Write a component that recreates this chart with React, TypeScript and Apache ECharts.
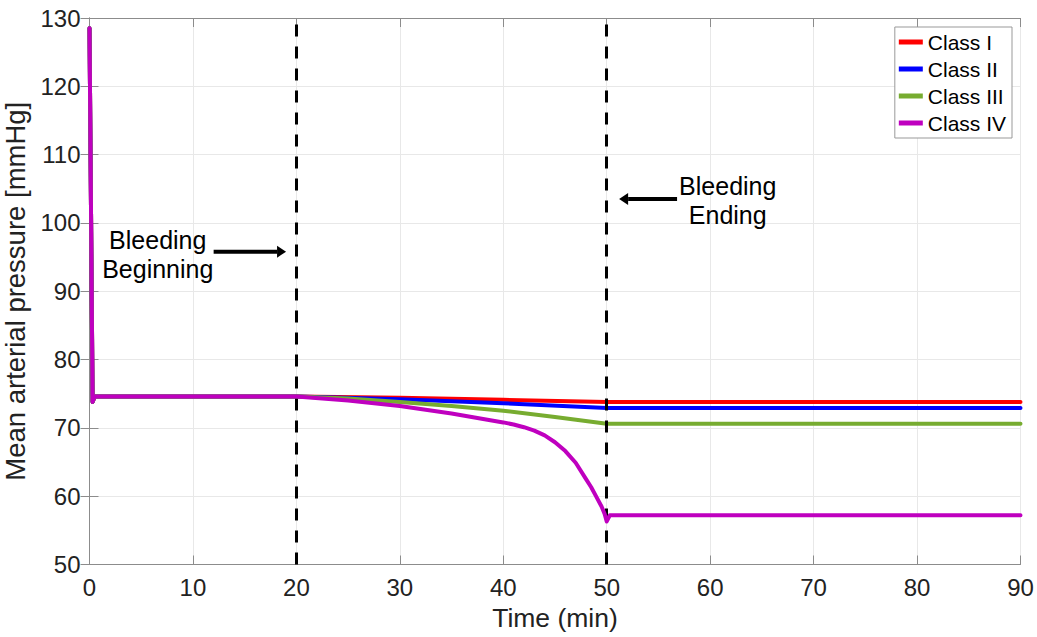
import React, { useEffect, useRef } from "react";
import * as echarts from "echarts";

const xTicks = { min: 0, max: 90, interval: 10 };
const yTicks = { min: 50, max: 130, interval: 10 };

const seriesNames = ["Class I", "Class II", "Class III", "Class IV"];
const seriesColors = ["#ff0000", "#0000ff", "#77ac30", "#bf00bf"];

const classI: number[][] = [
  [0, 128.5], [0.3, 73.8], [0.5, 74.6], [20, 74.6], [30, 74.4], [40, 74.1], [50, 73.8], [90, 73.8],
];
const classII: number[][] = [
  [0, 128.5], [0.3, 73.8], [0.5, 74.6], [20, 74.6], [30, 74.2], [40, 73.6], [50, 72.9], [90, 72.9],
];
const classIII: number[][] = [
  [0, 128.5], [0.3, 73.8], [0.5, 74.6], [20, 74.6], [25, 74.3], [30, 73.8], [35, 73.2], [40, 72.5],
  [45, 71.6], [50, 70.6], [90, 70.6],
];
const classIV: number[][] = [
  [0, 128.5], [0.3, 73.8], [0.5, 74.6], [20, 74.6], [25, 74.0], [30, 73.2], [35, 72.1], [40, 70.8],
  [41, 70.5], [42, 70.1], [43, 69.6], [44, 68.9], [45, 67.9], [46, 66.6], [47, 64.9], [48, 62.5],
  [48.5, 61.3], [49, 59.9], [49.5, 58.5], [49.8, 57.4], [50, 56.3], [50.3, 57.2], [90, 57.2],
];
const allSeries = [classI, classII, classIII, classIV];

const eventTimes = [20, 50];

// annotation anchors in data coordinates
const beginText = { x: 6.6, y: 95.4, text: "Bleeding\nBeginning" };
const beginArrow = { from: [12.0, 95.8], to: [19.0, 95.8] };
const endText = { x: 61.7, y: 103.3, text: "Bleeding\nEnding" };
const endArrow = { from: [56.8, 103.5], to: [51.2, 103.5] };

const FONT = "'Liberation Sans', Arial, Helvetica, sans-serif";
const AXIS_COLOR = "#8c8c8c";

export default function App() {
  const ref = useRef<HTMLDivElement>(null);
  useEffect(() => {
    if (!ref.current) return;
    const chart = echarts.init(ref.current, null, { renderer: "svg" });
    const axisCommon = {
      type: "value" as const,
      axisLine: { show: true, lineStyle: { color: AXIS_COLOR, width: 1 } },
      axisTick: { show: true, inside: true, length: 9, lineStyle: { color: AXIS_COLOR } },
    };
    chart.setOption({
      animation: false,
      textStyle: { fontFamily: FONT },
      grid: {
        left: 89.5,
        right: 16.5,
        top: 18,
        bottom: 72.5,
        containLabel: false,
        outerBoundsMode: "none",
      },
      xAxis: [
        {
          ...axisCommon,
          ...xTicks,
          position: "bottom",
          name: "Time (min)",
          nameLocation: "middle",
          nameGap: 40,
          nameTextStyle: { fontSize: 26.5, color: "#222", fontFamily: FONT },
          axisLabel: { fontSize: 24, color: "#222", margin: 11, fontFamily: FONT },
          splitLine: { show: true, lineStyle: { color: "#e8e8e8", width: 1 } },
        },
        {
          ...axisCommon,
          ...xTicks,
          position: "top",
          axisLabel: { show: false },
          splitLine: { show: false },
        },
      ],
      yAxis: [
        {
          ...axisCommon,
          ...yTicks,
          position: "left",
          name: "Mean arterial pressure [mmHg]",
          nameLocation: "middle",
          nameGap: 49,
          nameTextStyle: { fontSize: 27.5, color: "#222", fontFamily: FONT },
          axisLabel: { fontSize: 24, color: "#222", margin: 9, fontFamily: FONT },
          splitLine: { show: true, lineStyle: { color: "#e8e8e8", width: 1 } },
        },
        {
          ...axisCommon,
          ...yTicks,
          position: "right",
          axisLabel: { show: false },
          splitLine: { show: false },
        },
      ],
      legend: {
        orient: "vertical",
        right: 25,
        top: 27,
        data: seriesNames.map((n) => ({ name: n, icon: "rect" })),
        itemWidth: 24,
        itemHeight: 5,
        itemGap: 5,
        padding: [4, 6, 4, 4],
        backgroundColor: "#fff",
        borderColor: "#999",
        borderWidth: 1,
        borderRadius: 0,
        textStyle: { fontSize: 21, color: "#000", fontFamily: FONT, lineHeight: 22 },
      },
      series: allSeries.map((d, i) => ({
        type: "line",
        name: seriesNames[i],
        data: d,
        xAxisIndex: 0,
        yAxisIndex: 0,
        showSymbol: false,
        symbol: "none",
        color: seriesColors[i],
        lineStyle: { color: seriesColors[i], width: 4, join: "round", cap: "round" },
        z: 2 + i,
        markLine:
          i === allSeries.length - 1
            ? {
                silent: true,
                symbol: ["none", "none"],
                label: { show: false },
                lineStyle: { color: "#000", type: [12, 10], width: 3 },
                data: eventTimes.map((t) => ({ xAxis: t })),
              }
            : undefined,
      })),
    });

    const px = (p: number[]) => chart.convertToPixel({ gridIndex: 0 }, p) as number[];
    const arrow = (a: { from: number[]; to: number[] }) => {
      const f = px(a.from);
      const t = px(a.to);
      const dir = Math.sign(t[0] - f[0]);
      const headLen = 9;
      const half = 6;
      return [
        {
          type: "line",
          shape: { x1: f[0], y1: f[1], x2: t[0] - dir * headLen, y2: t[1] },
          style: { stroke: "#000", lineWidth: 4 },
          z: 100,
        },
        {
          type: "polygon",
          shape: {
            points: [
              [t[0], t[1]],
              [t[0] - dir * headLen, t[1] - half],
              [t[0] - dir * headLen, t[1] + half],
            ],
          },
          style: { fill: "#000" },
          z: 100,
        },
      ];
    };
    const label = (l: { x: number; y: number; text: string }) => {
      const p = px([l.x, l.y]);
      return {
        type: "text",
        x: p[0],
        y: p[1],
        z: 100,
        style: {
          text: l.text,
          fontSize: 25,
          fontFamily: FONT,
          fill: "#000",
          align: "center",
          verticalAlign: "middle",
          lineHeight: 29,
        },
      };
    };
    chart.setOption({
      graphic: [label(beginText), ...arrow(beginArrow), label(endText), ...arrow(endArrow)],
    });

    return () => chart.dispose();
  }, []);
  return (
    <div
      ref={ref}
      style={{ position: "fixed", left: 0, top: 0, width: 1037, height: 637, background: "#fff" }}
    />
  );
}
